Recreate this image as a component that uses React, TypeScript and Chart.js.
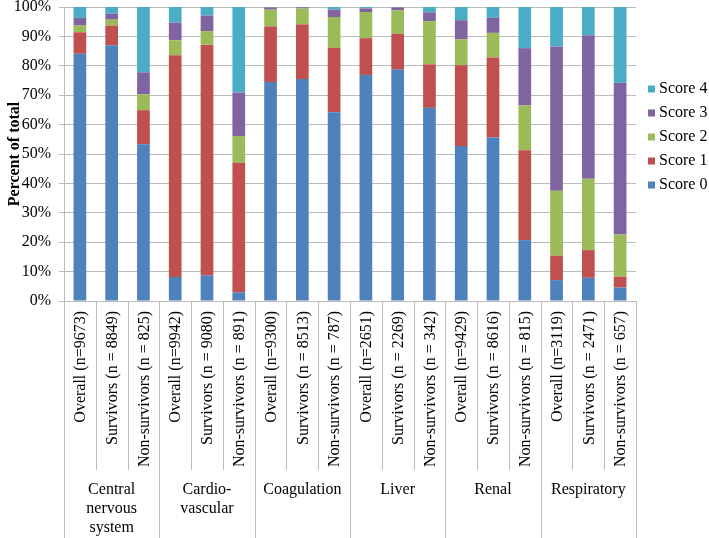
import React, { useEffect, useRef } from "react";
import { Chart, registerables } from "chart.js";

Chart.register(...registerables);

const categories = [
  "Overall (n=9673)", "Survivors (n = 8849)", "Non-survivors (n = 825)",
  "Overall (n=9942)", "Survivors (n = 9080)", "Non-survivors (n = 891)",
  "Overall (n=9300)", "Survivors (n = 8513)", "Non-survivors (n = 787)",
  "Overall (n=2651)", "Survivors (n = 2269)", "Non-survivors (n = 342)",
  "Overall (n=9429)", "Survivors (n = 8616)", "Non-survivors (n = 815)",
  "Overall (n=3119)", "Survivors (n = 2471)", "Non-survivors (n = 657)",
];

const groupLabels = [
  ["Central", "nervous", "system"],
  ["Cardio-", "vascular"],
  ["Coagulation"],
  ["Liver"],
  ["Renal"],
  ["Respiratory"],
];
const groupSizes = [3, 3, 3, 3, 3, 3];

const score0 = [84.1, 87.0, 53.3, 8.2, 8.7, 2.9, 74.5, 75.5, 64.2, 76.9, 78.7, 65.7, 52.7, 55.6, 20.7, 7.1, 7.9, 4.6];
const score1 = [7.3, 6.7, 11.6, 75.4, 78.5, 44.1, 18.9, 18.6, 21.9, 12.5, 12.2, 14.8, 27.5, 27.2, 30.6, 8.3, 9.4, 3.7];
const score2 = [2.3, 2.0, 5.4, 5.1, 4.6, 9.1, 5.7, 5.4, 10.5, 8.9, 8.0, 14.7, 8.8, 8.4, 15.2, 22.1, 24.3, 14.3];
const score3 = [2.6, 2.0, 7.5, 6.0, 5.3, 14.8, 0.7, 0.4, 2.5, 1.2, 0.9, 3.0, 6.5, 5.1, 19.5, 49.1, 48.8, 51.6];
const score4 = [3.7, 2.3, 22.2, 5.3, 2.9, 29.1, 0.2, 0.1, 0.9, 0.5, 0.2, 1.8, 4.5, 3.7, 14.0, 13.4, 9.6, 25.8];

const seriesNames = ["Score 0", "Score 1", "Score 2", "Score 3", "Score 4"];
const seriesValues = [score0, score1, score2, score3, score4];
const seriesColors = ["#4F81BD", "#C0504D", "#9BBB59", "#8064A2", "#4BACC6"];

const yTicks = [0, 10, 20, 30, 40, 50, 60, 70, 80, 90, 100];

const FONT = '"Liberation Serif", "Times New Roman", serif';
const GRID = "#BBBBBB";

const multiLevelAxis = {
  id: "multiLevelAxis",
  afterDraw(chart: any) {
    const { ctx, chartArea } = chart;
    const x = chart.scales.x;
    const bottom = chartArea.bottom;
    const H = chart.height;
    const half = (x.getPixelForValue(1) - x.getPixelForValue(0)) / 2;
    ctx.save();
    ctx.font = `16px ${FONT}`;
    ctx.fillStyle = "#000";
    categories.forEach((c, i) => {
      const cx = x.getPixelForValue(i);
      ctx.save();
      ctx.translate(cx + 1, bottom + 10);
      ctx.rotate(-Math.PI / 2);
      ctx.textAlign = "right";
      ctx.textBaseline = "middle";
      ctx.fillText(c, 0, 0);
      ctx.restore();
    });
    // separators
    const groupEdges = new Set<number>();
    let acc = 0;
    groupEdges.add(0);
    groupSizes.forEach((s) => {
      acc += s;
      groupEdges.add(acc);
    });
    ctx.strokeStyle = GRID;
    ctx.lineWidth = 1;
    for (let i = 0; i <= categories.length; i++) {
      const bx = i < categories.length ? x.getPixelForValue(i) - half : x.getPixelForValue(i - 1) + half;
      const px = Math.round(bx) + 0.5;
      const y2 = groupEdges.has(i) ? H : bottom + 169;
      ctx.beginPath();
      ctx.moveTo(px, bottom);
      ctx.lineTo(px, y2);
      ctx.stroke();
    }
    // group labels
    ctx.textAlign = "center";
    ctx.textBaseline = "middle";
    let start = 0;
    groupLabels.forEach((lines, g) => {
      const end = start + groupSizes[g] - 1;
      const gx = (x.getPixelForValue(start) + x.getPixelForValue(end)) / 2;
      lines.forEach((ln, k) => {
        ctx.fillText(ln, gx, bottom + 189 + k * 19);
      });
      start += groupSizes[g];
    });
    ctx.restore();
  },
};

const rightLegend = {
  id: "rightLegend",
  afterDraw(chart: any) {
    const { ctx, chartArea } = chart;
    ctx.save();
    ctx.font = `16px ${FONT}`;
    ctx.textAlign = "left";
    ctx.textBaseline = "middle";
    const order = [4, 3, 2, 1, 0];
    order.forEach((si, k) => {
      const cy = 89 + k * 24;
      ctx.fillStyle = seriesColors[si];
      ctx.fillRect(chartArea.right + 12, cy - 3.5, 7, 7);
      ctx.fillStyle = "#000";
      ctx.fillText(seriesNames[si], chartArea.right + 23, cy);
    });
    ctx.restore();
  },
};

export default function App() {
  const ref = useRef<HTMLCanvasElement | null>(null);
  useEffect(() => {
    if (!ref.current) return;
    const chart = new Chart(ref.current, {
      type: "bar",
      data: {
        labels: categories,
        datasets: seriesNames.map((name, i) => ({
          label: name,
          data: seriesValues[i],
          backgroundColor: seriesColors[i],
          borderWidth: 0,
          barPercentage: 0.4,
          categoryPercentage: 1,
        })),
      },
      options: {
        animation: false,
        responsive: true,
        maintainAspectRatio: false,
        layout: { padding: { top: 7, left: 0, right: 73, bottom: 0 } },
        plugins: {
          legend: { display: false },
          tooltip: { enabled: false },
        },
        scales: {
          x: {
            stacked: true,
            ticks: { display: false },
            grid: { display: false },
            border: { display: true, color: GRID },
            afterFit(scale: any) {
              scale.height = 237;
              scale.paddingLeft = 0;
              scale.paddingRight = 0;
            },
          },
          y: {
            stacked: true,
            min: 0,
            max: 100,
            afterBuildTicks(scale: any) {
              scale.ticks = yTicks.map((v) => ({ value: v }));
            },
            ticks: {
              padding: 8,
              color: "#000",
              font: { family: FONT, size: 16 },
              callback: (v: any) => `${v}%`,
            },
            grid: { color: GRID, tickLength: 5, drawTicks: true },
            border: { display: true, color: GRID },
            title: {
              display: true,
              text: "Percent of total",
              color: "#000",
              font: { family: FONT, size: 16, weight: "bold" },
              padding: { top: 5, bottom: 0 },
            },
            afterFit(scale: any) {
              scale.width = 64;
              scale.paddingTop = 0;
              scale.paddingBottom = 0;
            },
          },
        },
      },
      plugins: [multiLevelAxis, rightLegend],
    });
    return () => chart.destroy();
  }, []);
  return (
    <div style={{ position: "absolute", left: 0, top: 0, width: 709, height: 538 }}>
      <canvas ref={ref} />
    </div>
  );
}
